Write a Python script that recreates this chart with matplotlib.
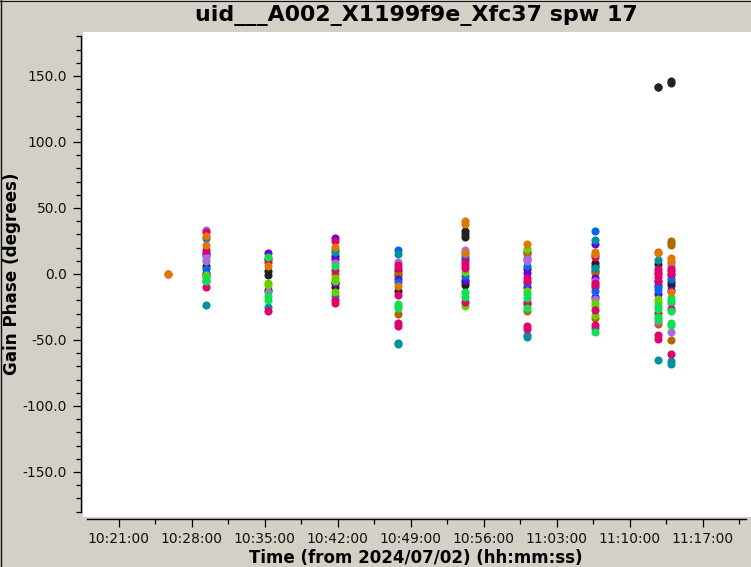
import matplotlib
matplotlib.use("Agg")
import matplotlib.pyplot as plt
from matplotlib.lines import Line2D
from matplotlib.ticker import MultipleLocator, FuncFormatter

W, H = 751, 567
BG = "#D4D0C8"

# scan times, minutes since 10:21:00
scan_times = [4.75, 8.35, 14.35, 20.8, 26.8, 33.25, 39.2, 45.7, 51.7, 53.0]

# one list per scan, degrees
dark = [[], [16, 6, -1], [11, 2, -1, -12], [13.5, -9.7, -7], [2, -1, -13], [32.5, 30, 28, -8.7, -6], [17, 4], [8.5, 2.6, 6], [141.5, 142, 7.7], [145, 146, -8.5, -6]]
brown = [[], [0], [], [0], [0, -30], [], [15, 12, -28], [0.4, -33.5], [17, -38], [25, 22, 23.5, -50]]
violet = [[], [14, 1], [16], [27, 11, -6.7], [-3.7], [11.7, -4.7], [1, -9.7], [23, -3, -17.3], [-8, -15.5, -5], [-12.3]]
blue = [[], [27, 4], [], [18.5], [18, -6], [13.5, -1.7], [6.4, -7], [32.5, -13, -10], [-12.3, -10], [-3.6, -1]]
teal = [[], [-23.5], [-25], [17, -17], [15.5, -52, -53], [], [-46.6, -48], [26, 4.7, -41], [10.5, -65.3], [-66, -68.5]]
purple = [[], [33, 12.5, 9.5], [-14], [8], [9], [18.5, 16], [9.7, 11], [14, -5.4, -19], [2, 0, -36], [8.5, 6, -22, -43.6]]
lime = [[], [-1], [-6.5, -8.5], [-3.4, -5, -13.5], [], [1.4, -24.5], [19, -13], [-22, -24, -31], [-19, -21], []]
pink = [[0], [32, 18.5, -5.5, -10], [9, -28], [25, 2.7, -19.5, -22], [6.7, 4.5, -16, -37, -39.5], [7, 9, 4.7, -21], [-3.4, -5.5, -21, -23, -39.5, -42], [12.5, -8.5, -6.5, -27.4, -39], [4, 1, -2.4, -5, -29.4, -46, -49], [2, 0, 4, -26.4, -61]]
green = [[], [-3, -5], [12.5, -17, -20], [5.7], [-22.5, -26, -24], [-14, -17.3], [-15.5, -18, -26], [-44.3], [-24, -26.5, -32.7, -34], [-18, -20.6, -28, -37, -39]]
orange = [[0], [29, 22], [6], [20.5], [-9], [40.5, 38, 16], [23], [17, 15], [16], [12, 10, -14]]

series = [
    (dark, "#222222"), (brown, "#B06800"), (violet, "#6A00E0"), (blue, "#0068F0"),
    (teal, "#00909F"), (purple, "#A86CDC"), (lime, "#66D000"), (pink, "#E0006E"),
    (green, "#10E050"), (orange, "#E07800"),
]

title = "uid___A002_X1199f9e_Xfc37 spw 17"
xlabel = "Time (from 2024/07/02) (hh:mm:ss)"
ylabel = "Gain Phase (degrees)"

fig = plt.figure(figsize=(W / 100, H / 100), dpi=100, facecolor=BG)
ax = fig.add_axes([83 / W, 1 - 517 / H, (751 - 83) / W, (517 - 32) / H], facecolor="white")

px_per_min = 73 / 7
to_min = lambda px: (px - 118.5) / px_per_min
ax.set_xlim(to_min(83), to_min(751))
ax.set_ylim(-184.1, 183.3)

for vals, col in series:
    xs, ys = [], []
    for t, v in zip(scan_times, vals):
        xs += [t] * len(v)
        ys += v
    ax.scatter(xs, ys, s=34, color=col, linewidths=0, zorder=3, clip_on=True, antialiased=False)

for s in ("top", "right"):
    ax.spines[s].set_visible(False)
ax.spines["left"].set_position(("outward", 1.4))
ax.spines["bottom"].set_position(("outward", 1.6))
ax.spines["left"].set_bounds(-180, 180)
ax.spines["bottom"].set_bounds(to_min(87), to_min(745.7))
for s in ("left", "bottom"):
    ax.spines[s].set_linewidth(1.0)
    ax.spines[s].set_color("black")

ax.xaxis.set_major_locator(MultipleLocator(7))
ax.xaxis.set_minor_locator(MultipleLocator(3.5))
def fmt_time(x, _):
    total = int(round(x * 60)) + 10 * 3600 + 21 * 60
    return f"{total // 3600:02d}:{total % 3600 // 60:02d}:{total % 60:02d}"
ax.xaxis.set_major_formatter(FuncFormatter(fmt_time))
ax.yaxis.set_major_locator(MultipleLocator(50))
ax.yaxis.set_minor_locator(MultipleLocator(10))
ax.yaxis.set_major_formatter(FuncFormatter(lambda v, _: f"{v:.1f}"))
ax.tick_params(axis="both", which="major", length=6, width=0.9, labelsize=10, labelcolor="#111111")
ax.tick_params(axis="both", which="minor", length=3.5, width=0.9)
ax.tick_params(axis="y", which="major", pad=4)
ax.tick_params(axis="x", which="major", pad=3)

fig.text(416.5 / W, 1 - 15 / H, title, ha="center", va="center", fontsize=15.9, fontweight="bold", color="black")
fig.text(416 / W, 1 - 558 / H, xlabel, ha="center", va="center", fontsize=12, fontweight="bold", color="black")
fig.text(12 / W, 1 - 274 / H, ylabel, ha="center", va="center", rotation=90, fontsize=12.1, fontweight="bold", color="black")

fig.add_artist(Line2D([0.7 / W, 0.7 / W], [0, 1], color="#111111", lw=1.0, transform=fig.transFigure))
fig.add_artist(Line2D([0, 1], [1 - 0.5 / H, 1 - 0.5 / H], color="#111111", lw=0.8, transform=fig.transFigure))

fig.savefig("out.png", dpi=100, facecolor=BG)
